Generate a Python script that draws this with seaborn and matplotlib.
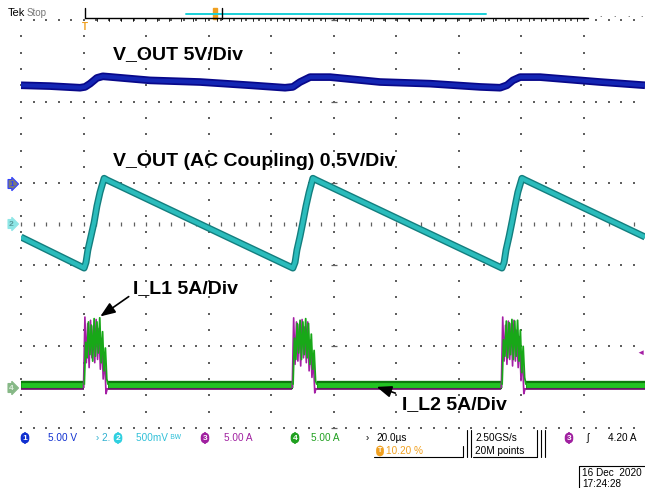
import matplotlib
matplotlib.use("Agg")
import matplotlib.pyplot as plt
import numpy as np
import pandas as pd
import seaborn as sns

# ---- data (time in us, level in screen divisions, 0 = bottom of graticule) ----
vout_t = [0, 9.3, 18.9, 20.5, 22.1, 24.3, 26.2, 41.3, 57.3, 73.3, 84.5, 87.0, 89.3, 92.5,
          98.9, 114.9, 130.9, 146.9, 153.3, 155.5, 157.4, 159.7, 166.1, 185.3, 199.7]
vout_v = [4.20, 4.19, 4.17, 4.18, 4.22, 4.29, 4.31, 4.26, 4.24, 4.20, 4.17, 4.18, 4.24, 4.30,
          4.30, 4.24, 4.22, 4.18, 4.17, 4.20, 4.26, 4.30, 4.30, 4.24, 4.20]

vac_t = [0, 20.2, 20.8, 21.4, 22.4, 23.4, 24.3, 25.3, 26.6, 27.5,
         87.0, 87.7, 88.3, 89.3, 90.2, 91.2, 92.2, 93.4, 94.4,
         153.9, 154.6, 155.2, 156.2, 157.1, 158.1, 159.0, 160.3, 161.3, 199.7]
vac_v = [2.34, 1.96, 2.03, 2.18, 2.35, 2.52, 2.72, 2.89, 3.06, 3.04,
         1.96, 2.03, 2.18, 2.35, 2.52, 2.72, 2.89, 3.06, 3.04,
         1.96, 2.03, 2.18, 2.35, 2.52, 2.72, 2.89, 3.06, 3.04, 2.34]

# inductor current bursts, one sample every sample_step us from each burst start
il1_start = [20.0, 86.8, 153.7]
il2_start = [20.25, 87.05, 153.95]
sample_step = 0.45
il1_bursts = [
    [0.49, 1.36, 0.80, 1.28, 0.74, 1.32, 0.86, 1.25, 0.80, 1.33, 0.84, 1.22, 0.72, 1.10, 0.60, 0.88, 0.42, 0.49],
    [0.49, 1.35, 0.78, 1.30, 0.82, 1.27, 0.76, 1.33, 0.86, 1.24, 0.80, 1.30, 0.70, 1.08, 0.62, 0.85, 0.43, 0.49],
    [0.49, 1.36, 0.82, 1.26, 0.78, 1.31, 0.84, 1.28, 0.76, 1.32, 0.82, 1.20, 0.74, 1.12, 0.58, 0.90, 0.42, 0.49],
]
il2_bursts = [
    [0.53, 1.05, 0.86, 1.30, 0.90, 1.26, 0.82, 1.34, 0.88, 1.30, 0.92, 1.35, 0.80, 1.18, 0.70, 0.98, 0.60, 0.53],
    [0.53, 1.10, 0.84, 1.28, 0.92, 1.32, 0.84, 1.30, 0.90, 1.34, 0.86, 1.28, 0.78, 1.15, 0.72, 0.95, 0.58, 0.53],
    [0.53, 1.08, 0.88, 1.31, 0.86, 1.29, 0.90, 1.33, 0.84, 1.31, 0.88, 1.32, 0.82, 1.20, 0.68, 1.00, 0.62, 0.53],
]
il1_base = 0.48
il2_base = 0.53

trace_labels = ["V_OUT 5V/Div", "V_OUT (AC Coupling) 0.5V/Div", "I_L1 5A/Div", "I_L2 5A/Div"]

W, H = 645, 488
BLUE = "#1426b4"
CYAN = "#2bbcbc"
MAGENTA = "#a41ea4"
GREEN = "#22c422"
ORANGE = "#f0a020"


def fx(x):
    return x / W


def fy(y):
    return 1 - y / H


def burst_frame(starts, bursts):
    rows = []
    for k, (start, vals) in enumerate(zip(starts, bursts)):
        for i, v in enumerate(vals):
            rows.append((start + sample_step * i, v, k))
    return pd.DataFrame(rows, columns=["t", "v", "seg"])


def base_frame(starts, bursts, base):
    # flat pieces of the trace between the bursts
    edges = [0.0]
    for start, vals in zip(starts, bursts):
        edges += [start, start + sample_step * (len(vals) - 1)]
    edges.append(199.7)
    rows = []
    for k in range(0, len(edges), 2):
        rows += [(edges[k], base, k), (edges[k + 1], base, k)]
    return pd.DataFrame(rows, columns=["t", "v", "seg"])


sns.set_style("white")
plt.rcParams["font.family"] = ["Liberation Sans", "DejaVu Sans"]

fig = plt.figure(figsize=(W / 100, H / 100), dpi=100)
ax = fig.add_axes([fx(21), fy(428), 625 / W, 408 / H])
ax.set_xlim(0, 200)
ax.set_ylim(0, 5)
ax.axis("off")

# graticule
grid_c = "#606060"
minor_y = np.arange(0, 5.01, 0.2)
minor_x = np.arange(0, 200.1, 4)
for gx in range(0, 201, 20):
    ax.scatter(np.full(len(minor_y), gx), minor_y, s=1.2, c=grid_c, marker="s", lw=0, clip_on=False)
for gy in range(0, 6):
    ax.scatter(minor_x, np.full(len(minor_x), gy), s=1.2, c=grid_c, marker="s", lw=0, clip_on=False)
ax.scatter(minor_x, np.full(len(minor_x), 2.5), s=12, c=grid_c, marker="|", lw=0.9, clip_on=False)
ax.scatter(np.full(6, 100), np.arange(0, 6), s=14, c=grid_c, marker="_", lw=0.9, clip_on=False)

cap = dict(estimator=None, sort=False, solid_capstyle="butt")

# traces
df1 = pd.DataFrame({"t": vout_t, "v": vout_v})
sns.lineplot(data=df1, x="t", y="v", ax=ax, color="#08088a", lw=5.5, **cap)
sns.lineplot(data=df1, x="t", y="v", ax=ax, color=BLUE, lw=3, **cap)

df2 = pd.DataFrame({"t": vac_t, "v": vac_v})
sns.lineplot(data=df2, x="t", y="v", ax=ax, color="#137e7e", lw=5, **cap)
sns.lineplot(data=df2, x="t", y="v", ax=ax, color=CYAN, lw=3, **cap)

b3 = burst_frame(il1_start, il1_bursts)
b4 = burst_frame(il2_start, il2_bursts)
g3 = base_frame(il1_start, il1_bursts, il1_base)
g4 = base_frame(il2_start, il2_bursts, il2_base)
sns.lineplot(data=g4, x="t", y="v", units="seg", ax=ax, color="#0d7a0d", lw=6, **cap)
sns.lineplot(data=g4, x="t", y="v", units="seg", ax=ax, color=GREEN, lw=3.5, **cap)
sns.lineplot(data=g3, x="t", y="v", units="seg", ax=ax, color="#701070", lw=1.2, **cap)
sns.lineplot(data=b3, x="t", y="v", units="seg", ax=ax, color=MAGENTA, lw=1.2, **cap)
sns.lineplot(data=b4, x="t", y="v", units="seg", ax=ax, color="#18a818", lw=1.3, **cap)

# labels on traces
lab_kw = dict(fontsize=14, fontweight="bold", color="black", va="center")
fig.text(fx(113), fy(55), trace_labels[0], **lab_kw)
fig.text(fx(113), fy(162), trace_labels[1], **lab_kw)
fig.text(fx(133), fy(289), trace_labels[2], **lab_kw)
fig.text(fx(402), fy(405), trace_labels[3], **lab_kw)
arrow = dict(arrowstyle="-|>,head_length=0.9,head_width=0.35", color="black", lw=1.2)
fig.add_artist(plt.Annotation("", xy=(fx(98), fy(318)), xytext=(fx(131), fy(295)),
                              xycoords="figure fraction", arrowprops=arrow))
fig.add_artist(plt.Annotation("", xy=(fx(374), fy(386)), xytext=(fx(398), fy(394)),
                              xycoords="figure fraction", arrowprops=arrow))


# channel markers on the left edge
def marker(y, txt, fc, ec, tc):
    fig.text(fx(9), fy(y), txt, fontsize=6, color=tc, va="center", ha="left", fontweight="bold",
             bbox=dict(boxstyle="rarrow,pad=0.12", fc=fc, ec=ec, lw=0.8))


marker(184, "1", "#7a7a7a", "#3040ff", "#3040ff")
marker(224, "2", "#8ee6e6", "#8ee6e6", "#5a9a9a")
marker(388, "4", "#86b886", "#86b886", "#e0eee0")
fig.text(fx(640), fy(353), "\u25c4", fontsize=6, color=MAGENTA, ha="center", va="center")

# top record bar
fig.text(fx(8), fy(13), "Tek", fontsize=8, color="black", va="center")
fig.text(fx(27), fy(13), "Stop", fontsize=7, color="#777777", va="center")
fig.add_artist(plt.Line2D([fx(85), fx(588)], [fy(18), fy(18)], color="black", lw=1))
fig.add_artist(plt.Line2D([fx(85), fx(85)], [fy(8), fy(18)], color="black", lw=1))
fig.add_artist(plt.Line2D([fx(186), fx(486)], [fy(14), fy(14)], color="#19d0d8", lw=1.4))
fig.add_artist(plt.Line2D([fx(222), fx(222)], [fy(8), fy(19)], color="black", lw=1))
fig.add_artist(plt.Rectangle((fx(213), fy(19)), 4 / W, 11 / H, color=ORANGE))
fig.text(fx(85), fy(27), "T", fontsize=7, color=ORANGE, ha="center", va="center", fontweight="bold")
for tx in range(97, 588, 12):
    fig.add_artist(plt.Line2D([fx(tx), fx(tx)], [fy(18), fy(21)], color="black", lw=0.6))
for tx in [600, 614, 628, 641]:
    fig.text(fx(tx), fy(17), ".", fontsize=6, color="black", ha="center")

# bottom status bar
sb = 438
sb2 = 451


def chip(x, y, txt, fc, fs=6):
    fig.text(fx(x), fy(y), txt, fontsize=fs, color="white", ha="center", va="center", fontweight="bold",
             bbox=dict(boxstyle="round,pad=0.15,rounding_size=0.5", fc=fc, ec=fc))


st = dict(fontsize=7.2, va="center")
chip(25, sb, "1", "#1030d0")
fig.text(fx(48), fy(sb), "5.00 V", color="#1030d0", **st)
fig.text(fx(96), fy(sb), "\u203a 2.", color="#30b0d0", **st)
chip(118, sb, "2", "#30d0e0")
fig.text(fx(136), fy(sb), "500mV \u1d2e\u1d42", color="#30c0d8", **st)
chip(205, sb, "3", "#a020a0")
fig.text(fx(224), fy(sb), "5.00 A", color="#a020a0", **st)
chip(295, sb, "4", "#20a020")
fig.text(fx(311), fy(sb), "5.00 A", color="#20a020", **st)
fig.text(fx(366), fy(sb), "\u203a", color="black", **st)
fig.text(fx(376), fy(sb), "20.0\u00b5s", color="black", **st)
chip(380, sb2, "T", ORANGE, fs=5)
fig.text(fx(386), fy(sb2), "10.20 %", color=ORANGE, **st)
fig.text(fx(475), fy(sb), "2.50GS/s", color="black", **st)
fig.text(fx(475), fy(sb2), "20M points", color="black", **st)
chip(569, sb, "3", "#a020a0")
fig.text(fx(587), fy(sb), "\u0283", color="black", **st)
fig.text(fx(608), fy(sb), "4.20 A", color="black", **st)
fig.text(fx(582), fy(473), "16 Dec  2020", color="black", **st)
fig.text(fx(582), fy(484), "17:24:28", color="black", **st)

# status bar frames
line_kw = dict(color="black", lw=0.8)
for xs, ys in [((374, 463), (457, 457)), ((463, 463), (446, 457)), ((467, 467), (430, 457)),
               ((471, 471), (430, 457)), ((473, 537), (457, 457)), ((537, 537), (430, 457)),
               ((541, 541), (430, 457)), ((545, 545), (430, 457)), ((579, 579), (466, 488)),
               ((579, 645), (466, 466))]:
    fig.add_artist(plt.Line2D([fx(xs[0]), fx(xs[1])], [fy(ys[0]), fy(ys[1])], **line_kw))

fig.savefig("out.png", dpi=100, facecolor="white")
